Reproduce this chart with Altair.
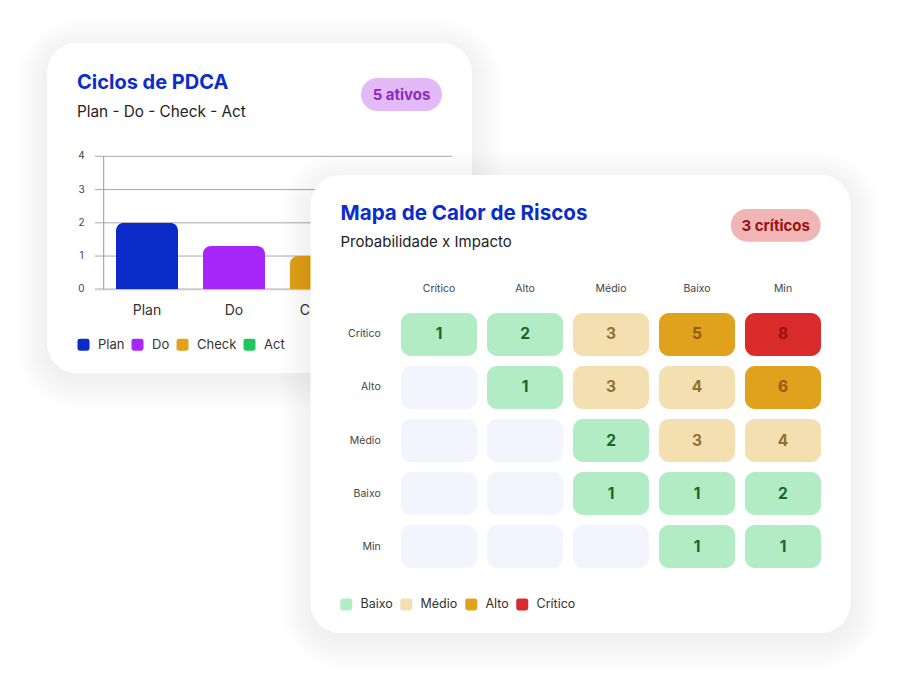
import altair as alt
import pandas as pd

FONT = "Inter"

# ---------------- PDCA card data ----------------
stages = ["Plan", "Do", "Check", "Act"]
stage_values = [2.0, 1.3, 1.0, 0.7]
stage_colors = ["#0a2bc8", "#a726f9", "#e0a11c", "#22c55e"]
y_ticks = [0, 1, 2, 3, 4]

# ---------------- Risk heat-map data ----------------
impacts = ["Crítico", "Alto", "Médio", "Baixo", "Min"]
probabilities = ["Crítico", "Alto", "Médio", "Baixo", "Min"]
risk_counts = [
    [1, 2, 3, 5, 8],
    [None, 1, 3, 4, 6],
    [None, None, 2, 3, 4],
    [None, None, 1, 1, 2],
    [None, None, None, 1, 1],
]
risk_levels = [
    ["Baixo", "Baixo", "Médio", "Alto", "Crítico"],
    [None, "Baixo", "Médio", "Médio", "Alto"],
    [None, None, "Baixo", "Médio", "Médio"],
    [None, None, "Baixo", "Baixo", "Baixo"],
    [None, None, None, "Baixo", "Baixo"],
]
level_names = ["Baixo", "Médio", "Alto", "Crítico"]
level_fill = ["#b2ecc4", "#f4dfb0", "#e0a11c", "#d92b2b"]
level_text = ["#16692a", "#8f7230", "#8b5e10", "#8f1414"]
EMPTY = "Vazio"
empty_fill = "#f3f4fd"

# ---------------- tables ----------------
pdca_df = pd.DataFrame({"stage": stages, "value": stage_values})
tick_df = pd.DataFrame({"tick": y_ticks})
cells = []
for i, p in enumerate(probabilities):
    for j, im in enumerate(impacts):
        cells.append({"prob": p, "impact": im,
                      "count": risk_counts[i][j],
                      "level": risk_levels[i][j] or EMPTY})
cell_df = pd.DataFrame(cells)
text_df = cell_df[cell_df["count"].notna()].copy()
text_df["count"] = text_df["count"].astype(int)
imp_df = pd.DataFrame({"impact": impacts})
prob_df = pd.DataFrame({"prob": probabilities})
one = pd.DataFrame({"a": [0]})

RSQ = "M-0.6,-1H0.6Q1,-1,1,-0.6V0.6Q1,1,0.6,1H-0.6Q-1,1,-1,0.6V-0.6Q-1,-1,-0.6,-1Z"

# ---------------- scales ----------------
pdca_x = alt.Scale(type="band", domain=stages, range=[95.5, 443.5], paddingInner=0.287, paddingOuter=0.1435)
pdca_y = alt.Scale(domain=[0, 4], range=[281.3, 148.3])
heat_x = alt.Scale(type="band", domain=impacts, range=[393, 813], paddingInner=0.116, paddingOuter=0)
heat_y = alt.Scale(type="band", domain=probabilities, range=[305, 560], paddingInner=0.189, paddingOuter=0)


def card(x0, y0, x1, y1, r=30):
    out = []
    for k in range(14, 0, -1):
        s = k * 2.2
        out.append(alt.Chart(one).mark_rect(cornerRadius=r + s, color="#000000", opacity=0.0055).encode(
            x=alt.value(x0 - s), x2=alt.value(x1 + s), y=alt.value(y0 - s + 6), y2=alt.value(y1 + s + 6)))
    out.append(alt.Chart(one).mark_rect(cornerRadius=r, color="#ffffff").encode(
        x=alt.value(x0), x2=alt.value(x1), y=alt.value(y0), y2=alt.value(y1)))
    return out


def label(text, x, y, size, color, weight="normal", align="left", baseline="alphabetic"):
    return alt.Chart(one).mark_text(text=text, font=FONT, fontSize=size, color=color, fontWeight=weight,
                                    align=align, baseline=baseline).encode(x=alt.value(x), y=alt.value(y))


def badge(text, x0, y0, x1, y1, fill, color):
    r = (y1 - y0) / 2
    return [
        alt.Chart(one).mark_rect(cornerRadius=r, color=fill).encode(
            x=alt.value(x0), x2=alt.value(x1), y=alt.value(y0), y2=alt.value(y1)),
        label(text, (x0 + x1) / 2, (y0 + y1) / 2 + 0.5, 15, color, "bold", "center", "middle"),
    ]


layers = []

# ===== Card 1 : PDCA =====
layers += card(39, 35, 464, 365)
layers.append(label("Ciclos de PDCA", 69, 81, 20, "#0b2dca", "bold"))
layers.append(label("Plan - Do - Check - Act", 69, 108.5, 15.3, "#222222"))
layers += badge("5 ativos", 353, 70, 434, 103, "#e3b9f7", "#8c2cbd")

grid = alt.Chart(tick_df).transform_filter("datum.tick > 0").mark_rule(color="#a9a9a9", strokeWidth=1).encode(
    y=alt.Y("tick:Q", scale=pdca_y, axis=None), x=alt.value(87), x2=alt.value(444))
base = alt.Chart(tick_df).transform_filter("datum.tick == 0").mark_rule(color="#cccccc", strokeWidth=2).encode(
    y=alt.Y("tick:Q", scale=pdca_y, axis=None), x=alt.value(87), x2=alt.value(444))
axis_line = alt.Chart(one).mark_rule(color="#999999", strokeWidth=1).encode(
    x=alt.value(95.7), y=alt.Y(datum=0, type="quantitative", scale=pdca_y, axis=None), y2=alt.Y2(datum=4))
tick_labels = alt.Chart(tick_df).mark_text(font=FONT, fontSize=10, color="#444444", align="center",
                                           baseline="middle").encode(
    y=alt.Y("tick:Q", scale=pdca_y, axis=None), x=alt.value(73.5), text="tick:Q")
bars = alt.Chart(pdca_df).mark_bar(cornerRadiusTopLeft=8, cornerRadiusTopRight=8).encode(
    x=alt.X("stage:N", scale=pdca_x, axis=None, sort=stages),
    y=alt.Y("value:Q", scale=pdca_y, axis=None),
    color=alt.Color("stage:N", scale=alt.Scale(domain=stages, range=stage_colors),
                    legend=alt.Legend(orient="none", legendX=69, legendY=330, direction="horizontal",
                                      title=None, symbolType=RSQ, symbolSize=144, symbolStrokeWidth=0,
                                      symbolOpacity=1, labelFont=FONT, labelFontSize=13,
                                      labelColor="#333333", labelOffset=8, columnPadding=6, padding=0)))
x_labels = alt.Chart(pdca_df).mark_text(font=FONT, fontSize=14, color="#333333", baseline="middle").encode(
    x=alt.X("stage:N", scale=pdca_x, axis=None, sort=stages), y=alt.value(302.7), text="stage:N")
layers += [grid, base, axis_line, tick_labels, bars, x_labels]

# ===== Card 2 : heat map =====
layers += card(302.5, 167, 842.5, 625)
layers.append(label("Mapa de Calor de Riscos", 332.5, 212, 20.6, "#0b2dca", "bold"))
layers.append(label("Probabilidade x Impacto", 332.5, 239.3, 15, "#222222"))
layers += badge("3 críticos", 722.7, 201, 812.7, 233.7, "#f0b6b6", "#9b1111")

rects = alt.Chart(cell_df).mark_rect(cornerRadius=10).encode(
    x=alt.X("impact:N", scale=heat_x, axis=None, sort=impacts),
    y=alt.Y("prob:N", scale=heat_y, axis=None, sort=probabilities),
    fill=alt.Fill("level:N", scale=alt.Scale(domain=level_names + [EMPTY], range=level_fill + [empty_fill]),
                  legend=alt.Legend(orient="none", legendX=332, legendY=590, direction="horizontal",
                                    values=level_names, title=None, symbolType=RSQ, symbolSize=144,
                                    symbolStrokeWidth=0, symbolOpacity=1, labelFont=FONT,
                                    labelFontSize=12.5, labelColor="#333333", labelOffset=8,
                                    columnPadding=7, padding=0)))
nums = alt.Chart(text_df).mark_text(font=FONT, fontSize=15.5, fontWeight="bold", baseline="middle").encode(
    x=alt.X("impact:N", scale=heat_x, axis=None, sort=impacts),
    y=alt.Y("prob:N", scale=heat_y, axis=None, sort=probabilities),
    text="count:Q",
    color=alt.Color("level:N", scale=alt.Scale(domain=level_names, range=level_text), legend=None))
col_heads = alt.Chart(imp_df).mark_text(font=FONT, fontSize=10.5, color="#444444", baseline="middle").encode(
    x=alt.X("impact:N", scale=heat_x, axis=None, sort=impacts), y=alt.value(280.5), text="impact:N")
row_heads = alt.Chart(prob_df).mark_text(font=FONT, fontSize=10.5, color="#444444", align="right",
                                         baseline="middle").encode(
    y=alt.Y("prob:N", scale=heat_y, axis=None, sort=probabilities), x=alt.value(372.7), text="prob:N")
layers += [rects, nums, col_heads, row_heads]

chart = alt.layer(*layers).resolve_scale(
    x="independent", y="independent", color="independent", fill="independent"
).properties(
    width=882, height=669, autosize=alt.AutoSizeParams(type="none"), padding=0
).configure_view(stroke=None)

chart.save("out.html", embed_options={"renderer": "svg", "actions": False})
